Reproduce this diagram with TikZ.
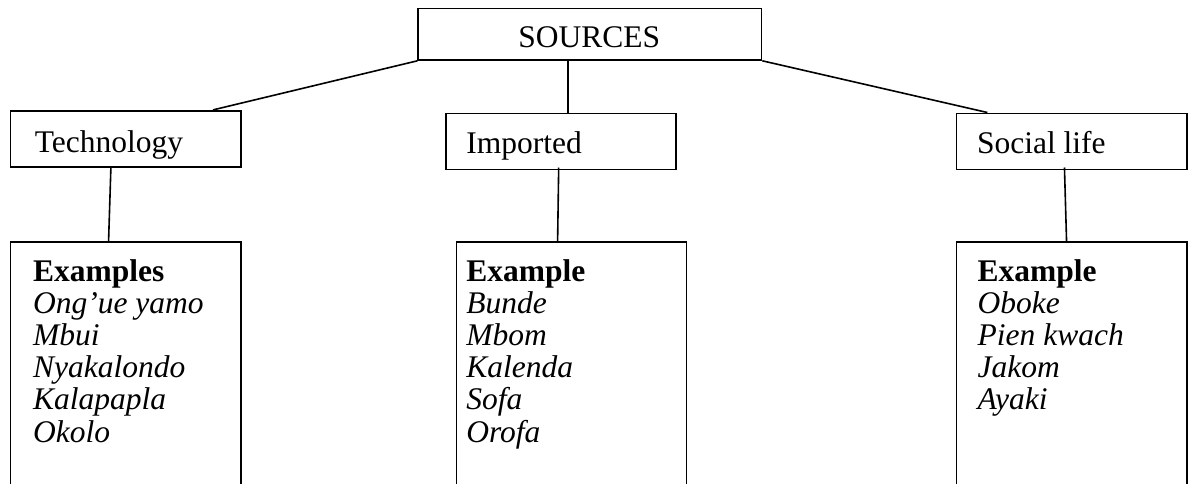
\documentclass[tikz,border=0pt]{standalone}
\usepackage{fontspec}
\setmainfont{Liberation Serif}
\usetikzlibrary{fit,calc}
\tikzset{
  boxnode/.style={draw, line width=0.8pt, inner sep=0pt, rectangle},
  txt/.style={anchor=base west, inner sep=0pt, font=\fontsize{15.75}{16.1}\selectfont},
  conn/.style={line width=0.8pt}
}
\begin{document}
\begin{tikzpicture}[x=0.5pt, y=-0.5pt]
\useasboundingbox (0,0) rectangle (1192,483);
\clip (0,0) rectangle (1192,483);
% header boxes
\node[boxnode, fit={(418.2,8.3) (761.5,60)}] (src) {};
\node[boxnode, fit={(10.3,110.7) (241,166.7)}] (tech) {};
\node[boxnode, fit={(445.8,113.3) (676.2,169.3)}] (imp) {};
\node[boxnode, fit={(956.3,113.3) (1187,169.3)}] (soc) {};
% example boxes (run past the bottom edge)
\node[boxnode, fit={(10.3,241.7) (241,520)}] (ex1) {};
\node[boxnode, fit={(456.5,241.7) (686.5,520)}] (ex2) {};
\node[boxnode, fit={(956.3,241.7) (1187,520)}] (ex3) {};
% texts
\node[txt] (srct) at (518,47.3) {SOURCES};
\node[txt] (techt) at (34.4,152) {Technology};
\node[txt] (impt) at (466,153.3) {Imported};
\node[txt] (soct) at (976.6,153.3) {Social life};
\node[txt] (ex1t) at (32.7,281) {\vtop{\hbox{\textbf{Examples}}\hbox{\textit{Ong’ue yamo}}\hbox{\textit{Mbui}}\hbox{\textit{Nyakalondo}}\hbox{\textit{Kalapapla}}\hbox{\textit{Okolo}}}};
\node[txt] (ex2t) at (466,281) {\vtop{\hbox{\textbf{Example}}\hbox{\textit{Bunde}}\hbox{\textit{Mbom}}\hbox{\textit{Kalenda}}\hbox{\textit{Sofa}}\hbox{\textit{Orofa}}}};
\node[txt] (ex3t) at (977.3,281) {\vtop{\hbox{\textbf{Example}}\hbox{\textit{Oboke}}\hbox{\textit{Pien kwach}}\hbox{\textit{Jakom}}\hbox{\textit{Ayaki}}}};
% connectors
\draw[conn] (src.south west) -- ($(tech.north west)!0.876!(tech.north east)$);
\coordinate (srcb) at ($(src.south west)!0.437!(src.south east)$);
\draw[conn] (srcb) -- (srcb |- imp.north);
\draw[conn] (src.south east) -- ($(soc.north west)!0.137!(soc.north east)$);
\draw[conn] ($(tech.south west)!0.4365!(tech.south east)$) -- ($(ex1.north west)!0.4265!(ex1.north east)$);
\draw[conn] ($(imp.south west)!0.49!(imp.south east)+(0,-2.6)$) -- ($(ex2.north west)!0.44!(ex2.north east)$);
\draw[conn] ($(soc.south west)!0.469!(soc.south east)+(0,-2.6)$) -- ($(ex3.north west)!0.478!(ex3.north east)$);
\end{tikzpicture}
\end{document}
